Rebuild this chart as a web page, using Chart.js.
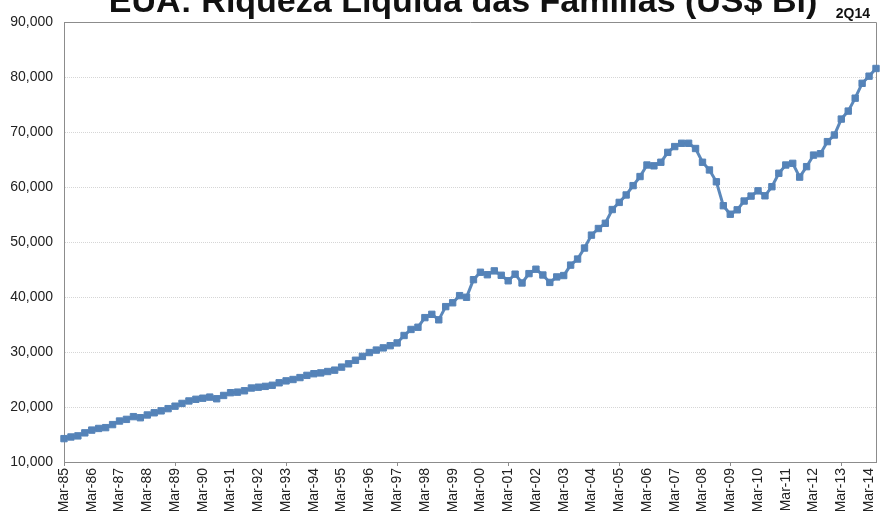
<!DOCTYPE html>
<html>
<head>
<meta charset="utf-8">
<script src="https://cdn.jsdelivr.net/npm/chart.js@4.4.1/dist/chart.umd.min.js"></script>
<style>
  html, body { margin: 0; padding: 0; background: #ffffff; }
  #wrap { width: 883px; height: 515px; position: relative; }
</style>
</head>
<body>
<div id="wrap"><canvas id="chart" width="883" height="515"></canvas></div>
<script>
// Household net worth, United States, quarterly, US$ billions (Mar-85 .. Jun-14)
const years = [1985, 1986, 1987, 1988, 1989, 1990, 1991, 1992, 1993, 1994,
               1995, 1996, 1997, 1998, 1999, 2000, 2001, 2002, 2003, 2004,
               2005, 2006, 2007, 2008, 2009, 2010, 2011, 2012, 2013, 2014];
const quarterMonths = ['Mar', 'Jun', 'Sep', 'Dec'];

const netWorth = [
  14250, 14550, 14750, 15300,   // 1985
  15800, 16100, 16250, 16800,   // 1986
  17450, 17750, 18250, 18050,   // 1987
  18550, 18950, 19300, 19700,   // 1988
  20150, 20650, 21100, 21400,   // 1989
  21600, 21800, 21500, 22100,   // 1990
  22600, 22700, 22950, 23450,   // 1991
  23600, 23750, 23950, 24400,   // 1992
  24750, 25000, 25350, 25750,   // 1993
  26050, 26200, 26450, 26700,   // 1994
  27250, 27850, 28500, 29200,   // 1995
  29900, 30350, 30750, 31150,   // 1996
  31650, 33000, 34100, 34500,   // 1997
  36250, 36850, 35850, 38250,   // 1998
  38950, 40250, 39950, 43150,   // 1999
  44500, 44050, 44750, 43950,   // 2000
  42950, 44150, 42550, 44250,   // 2001
  45050, 44000, 42650, 43650,   // 2002
  43900, 45800, 46900, 48900,   // 2003
  51250, 52450, 53400, 55900,   // 2004
  57200, 58550, 60250, 61900,   // 2005
  64000, 63850, 64500, 66300,   // 2006
  67350, 67950, 67950, 67000,   // 2007
  64500, 63100, 60950, 56600,   // 2008
  55050, 55850, 57450, 58350,   // 2009
  59300, 58400, 60050, 62500,   // 2010
  64000, 64300, 61800, 63700,   // 2011
  65800, 66050, 68250, 69450,   // 2012
  72350, 73800, 76150, 78850,   // 2013
  80150, 81550                  // 2014
];

const yTicks = [10000, 20000, 30000, 40000, 50000, 60000, 70000, 80000, 90000];
const titleText = 'EUA: Riqueza Líquida das Famílias (US$ Bi)';
const latestTag = '2Q14';

// quarter labels such as "Mar-85"
const categories = [];
years.forEach(y => quarterMonths.forEach(m => categories.push(m + '-' + String(y).slice(2))));
categories.length = netWorth.length;

const FONT = '"Liberation Sans", Arial, sans-serif';
const AXIS_GREY = '#8c8c8c';

// plot frame (top and right edges) and the heading texts
const framePlugin = {
  id: 'frame',
  beforeDatasetsDraw(chart) {
    const { ctx, chartArea: a } = chart;
    ctx.save();
    ctx.strokeStyle = AXIS_GREY;
    ctx.lineWidth = 1;
    ctx.beginPath();
    ctx.moveTo(Math.round(a.left) + 0.5, Math.round(a.top) + 0.5);
    ctx.lineTo(Math.round(a.right) + 0.5, Math.round(a.top) + 0.5);
    ctx.lineTo(Math.round(a.right) + 0.5, Math.round(a.bottom) + 0.5);
    ctx.stroke();
    ctx.restore();
  },
  afterDraw(chart) {
    const { ctx } = chart;
    ctx.save();
    ctx.fillStyle = '#111111';
    ctx.textAlign = 'center';
    ctx.textBaseline = 'alphabetic';
    ctx.font = 'bold 34px ' + FONT;
    ctx.fillText(titleText, 463, 12);
    ctx.textAlign = 'right';
    ctx.font = 'bold 14px ' + FONT;
    ctx.fillText(latestTag, 870, 18);
    ctx.restore();
  }
};

new Chart(document.getElementById('chart'), {
  type: 'line',
  data: {
    labels: categories,
    datasets: [{
      data: netWorth,
      borderColor: '#5b88bb',
      backgroundColor: '#5583b8',
      borderWidth: 3,
      pointStyle: 'rect',
      pointRadius: 4.5,
      pointBorderWidth: 1,
      pointBorderColor: '#5583b8',
      pointBackgroundColor: '#5583b8',
      tension: 0,
      clip: false
    }]
  },
  options: {
    responsive: false,
    animation: false,
    devicePixelRatio: 1,
    layout: { padding: { top: 22, right: 7, left: 0, bottom: 0 } },
    plugins: {
      legend: { display: false },
      tooltip: { enabled: false },
      title: { display: false }
    },
    scales: {
      x: {
        type: 'category',
        offset: false,
        afterFit(scale) {
          scale.height = 53;
          scale.paddingLeft = 0;
          scale.paddingRight = 0;
        },
        grid: {
          drawOnChartArea: false,
          drawTicks: true,
          tickLength: 4,
          color: AXIS_GREY,
          tickColor: c => (c.index % 4 === 0 ? AXIS_GREY : 'rgba(0,0,0,0)')
        },
        border: { display: true, color: AXIS_GREY, width: 1 },
        ticks: {
          autoSkip: false,
          maxRotation: 90,
          minRotation: 90,
          padding: 2,
          color: '#222222',
          font: { family: FONT, size: 14 },
          callback: (v, i) => (i % 4 === 0 ? categories[i] : null)
        }
      },
      y: {
        min: yTicks[0],
        max: yTicks[yTicks.length - 1],
        afterFit(scale) { scale.width = 64; },
        afterBuildTicks(scale) { scale.ticks = yTicks.map(v => ({ value: v })); },
        grid: {
          drawTicks: false,
          color: '#d6d6d6',
          lineWidth: 1
        },
        border: { display: true, color: AXIS_GREY, width: 1, dash: [1, 1] },
        ticks: {
          padding: 11,
          color: '#222222',
          font: { family: FONT, size: 14 },
          callback: v => v.toLocaleString('en-US')
        }
      }
    }
  },
  plugins: [framePlugin]
});
</script>
</body>
</html>
